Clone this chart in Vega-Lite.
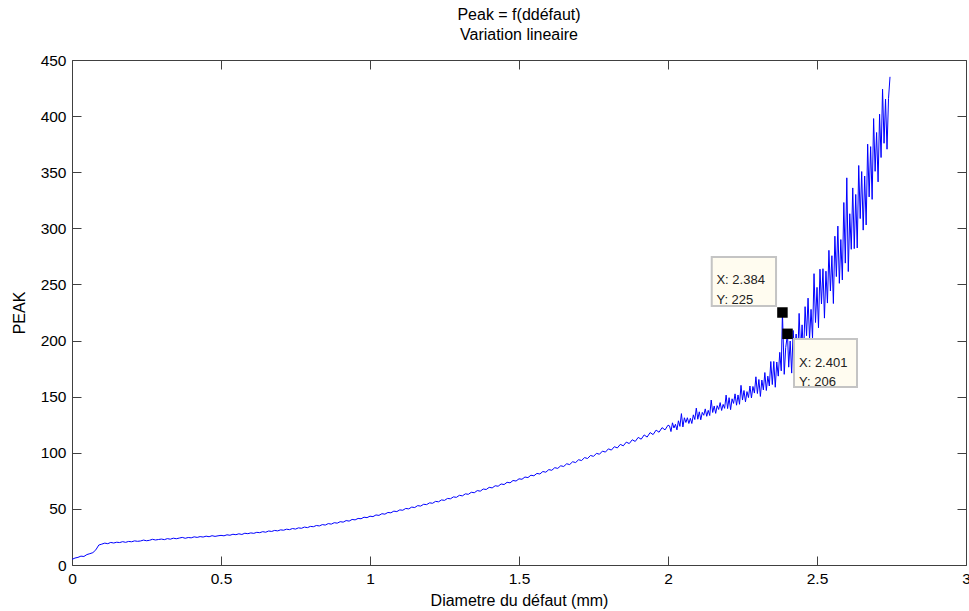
{
"$schema":"https://vega.github.io/schema/vega-lite/v6.json",
"width":894,"height":505,
"autosize":{"type":"none"},
"padding":{"left":72,"top":60,"right":3,"bottom":46},
"background":"white",
"config":{"font":"Liberation Sans","view":{"stroke":null}},
"title":{"text":"Peak = f(ddéfaut)","subtitle":"Variation lineaire","fontSize":16,"subtitleFontSize":16,"fontWeight":"normal","color":"black","subtitleColor":"black","anchor":"middle","offset":10,"subtitlePadding":4},
"datasets":{
"curve":[
{"x":0,"y":5.0},{"x":0.01,"y":6.2},{"x":0.02,"y":6.8},{"x":0.03,"y":7.9},{"x":0.04,"y":7.6},{"x":0.05,"y":9.3},{"x":0.06,"y":10.1},{"x":0.07,"y":11.0},{"x":0.08,"y":13.5},{"x":0.09,"y":17.8},
{"x":0.10,"y":18.6},{"x":0.11,"y":19.5},{"x":0.12,"y":19.0},{"x":0.13,"y":20.1},{"x":0.14,"y":19.6},{"x":0.15,"y":20.3},{"x":0.16,"y":20.0},{"x":0.17,"y":20.8},{"x":0.18,"y":20.2},{"x":0.19,"y":21.0},
{"x":0.20,"y":20.7},{"x":0.21,"y":21.5},{"x":0.22,"y":21.1},{"x":0.23,"y":21.4},{"x":0.24,"y":22.2},{"x":0.25,"y":21.6},{"x":0.26,"y":22.0},{"x":0.27,"y":22.9},{"x":0.28,"y":22.3},{"x":0.29,"y":22.7},
{"x":0.30,"y":23.1},{"x":0.31,"y":22.6},{"x":0.32,"y":23.5},{"x":0.33,"y":23.0},{"x":0.34,"y":23.9},{"x":0.35,"y":23.4},{"x":0.36,"y":24.0},{"x":0.37,"y":24.6},{"x":0.38,"y":23.8},{"x":0.39,"y":24.5},
{"x":0.40,"y":24.2},{"x":0.41,"y":25.1},{"x":0.42,"y":24.6},{"x":0.43,"y":25.3},{"x":0.44,"y":24.9},{"x":0.45,"y":25.7},{"x":0.46,"y":25.2},{"x":0.47,"y":26.1},{"x":0.48,"y":25.5},{"x":0.49,"y":26.0},
{"x":0.50,"y":26.4},{"x":0.51,"y":26.0},{"x":0.52,"y":26.9},{"x":0.53,"y":26.5},{"x":0.54,"y":27.4},{"x":0.55,"y":27.0},{"x":0.56,"y":27.8},{"x":0.57,"y":27.2},{"x":0.58,"y":28.3},{"x":0.59,"y":27.9},
{"x":0.60,"y":28.6},{"x":0.61,"y":28.2},{"x":0.62,"y":29.1},{"x":0.63,"y":28.8},{"x":0.64,"y":29.7},{"x":0.65,"y":29.2},{"x":0.66,"y":30.3},{"x":0.67,"y":29.9},{"x":0.68,"y":30.8},{"x":0.69,"y":30.4},
{"x":0.70,"y":31.3},{"x":0.71,"y":31.0},{"x":0.72,"y":31.9},{"x":0.73,"y":31.5},{"x":0.74,"y":32.5},{"x":0.75,"y":32.0},{"x":0.76,"y":33.1},{"x":0.77,"y":32.7},{"x":0.78,"y":33.8},{"x":0.79,"y":33.3},
{"x":0.80,"y":34.4},{"x":0.81,"y":34.1},{"x":0.82,"y":35.2},{"x":0.83,"y":34.8},{"x":0.84,"y":36.0},{"x":0.85,"y":35.6},{"x":0.86,"y":36.9},{"x":0.87,"y":36.4},{"x":0.88,"y":37.7},{"x":0.89,"y":37.3},
{"x":0.90,"y":38.6},{"x":0.91,"y":38.2},{"x":0.92,"y":39.6},{"x":0.93,"y":39.1},{"x":0.94,"y":40.6},{"x":0.95,"y":40.2},{"x":0.96,"y":41.5},{"x":0.97,"y":41.2},{"x":0.98,"y":42.6},{"x":0.99,"y":42.2},
{"x":1.00,"y":43.5},{"x":1.01,"y":43.1},{"x":1.02,"y":44.6},{"x":1.03,"y":44.2},{"x":1.04,"y":45.7},{"x":1.05,"y":45.3},{"x":1.06,"y":46.8},{"x":1.07,"y":46.5},{"x":1.08,"y":48.0},{"x":1.09,"y":47.6},
{"x":1.10,"y":49.1},{"x":1.11,"y":48.8},{"x":1.12,"y":50.4},{"x":1.13,"y":50.0},{"x":1.14,"y":51.6},{"x":1.15,"y":51.2},{"x":1.16,"y":52.9},{"x":1.17,"y":52.5},{"x":1.18,"y":54.1},{"x":1.19,"y":53.8},
{"x":1.20,"y":55.4},{"x":1.21,"y":55.0},{"x":1.22,"y":56.7},{"x":1.23,"y":56.3},{"x":1.24,"y":58.0},{"x":1.25,"y":57.6},{"x":1.26,"y":59.3},{"x":1.27,"y":59.0},{"x":1.28,"y":60.7},{"x":1.29,"y":60.3},
{"x":1.30,"y":62.1},{"x":1.31,"y":61.6},{"x":1.32,"y":63.4},{"x":1.33,"y":63.0},{"x":1.34,"y":64.8},{"x":1.35,"y":64.4},{"x":1.36,"y":66.3},{"x":1.37,"y":65.8},{"x":1.38,"y":67.7},{"x":1.39,"y":67.3},
{"x":1.40,"y":69.2},{"x":1.41,"y":68.7},{"x":1.42,"y":70.6},{"x":1.43,"y":70.2},{"x":1.44,"y":72.2},{"x":1.45,"y":71.7},{"x":1.46,"y":73.7},{"x":1.47,"y":73.2},{"x":1.48,"y":75.3},{"x":1.49,"y":74.8},
{"x":1.50,"y":76.8},{"x":1.51,"y":76.4},{"x":1.52,"y":78.4},{"x":1.53,"y":77.9},{"x":1.54,"y":80.0},{"x":1.55,"y":79.5},{"x":1.56,"y":81.6},{"x":1.57,"y":81.1},{"x":1.58,"y":83.3},{"x":1.59,"y":82.7},
{"x":1.60,"y":85.0},{"x":1.61,"y":84.4},{"x":1.62,"y":86.7},{"x":1.63,"y":86.1},{"x":1.64,"y":88.4},{"x":1.65,"y":87.8},{"x":1.66,"y":90.2},{"x":1.67,"y":89.5},{"x":1.68,"y":92.0},{"x":1.69,"y":91.3},
{"x":1.70,"y":93.8},{"x":1.71,"y":93.1},{"x":1.72,"y":95.7},{"x":1.73,"y":94.9},{"x":1.74,"y":97.6},{"x":1.75,"y":96.8},{"x":1.76,"y":99.5},{"x":1.77,"y":98.7},{"x":1.78,"y":101.5},{"x":1.79,"y":100.6},
{"x":1.80,"y":103.5},{"x":1.81,"y":102.4},{"x":1.82,"y":105.4},{"x":1.83,"y":104.3},{"x":1.84,"y":107.5},{"x":1.85,"y":106.2},{"x":1.86,"y":109.5},{"x":1.87,"y":108.2},{"x":1.88,"y":111.6},{"x":1.89,"y":110.1},
{"x":1.90,"y":113.7},{"x":1.91,"y":112.1},{"x":1.92,"y":115.9},{"x":1.93,"y":114.0},{"x":1.94,"y":118.0},{"x":1.95,"y":116.2},{"x":1.96,"y":120.2},{"x":1.97,"y":118.3},{"x":1.98,"y":122.4},{"x":1.99,"y":120.4},
{"x":2.000,"y":124.6},{"x":2.005,"y":124.0},{"x":2.010,"y":118.9},{"x":2.015,"y":126.7},{"x":2.020,"y":122.1},{"x":2.025,"y":125.4},{"x":2.030,"y":120.4},{"x":2.035,"y":128.5},{"x":2.040,"y":123.5},{"x":2.045,"y":134.9},
{"x":2.050,"y":123.0},{"x":2.055,"y":131.2},{"x":2.060,"y":127.0},{"x":2.065,"y":131.2},{"x":2.070,"y":126.1},{"x":2.075,"y":130.7},{"x":2.080,"y":126.1},{"x":2.085,"y":133.8},{"x":2.090,"y":129.6},{"x":2.095,"y":139.8},
{"x":2.100,"y":129.9},{"x":2.105,"y":136.5},{"x":2.110,"y":129.4},{"x":2.115,"y":136.0},{"x":2.120,"y":133.4},{"x":2.125,"y":139.1},{"x":2.130,"y":132.5},{"x":2.135,"y":137.8},{"x":2.140,"y":133.2},{"x":2.145,"y":147.0},
{"x":2.150,"y":135.9},{"x":2.155,"y":141.7},{"x":2.160,"y":135.1},{"x":2.165,"y":142.0},{"x":2.170,"y":138.6},{"x":2.175,"y":144.7},{"x":2.180,"y":137.7},{"x":2.185,"y":143.1},{"x":2.190,"y":139.6},{"x":2.195,"y":151.4},
{"x":2.200,"y":139.4},{"x":2.205,"y":149.1},{"x":2.210,"y":138.4},{"x":2.215,"y":148.1},{"x":2.220,"y":144.0},{"x":2.225,"y":152.5},{"x":2.230,"y":142.4},{"x":2.235,"y":151.5},{"x":2.240,"y":143.2},{"x":2.245,"y":160.1},
{"x":2.250,"y":147.0},{"x":2.255,"y":155.5},{"x":2.260,"y":145.4},{"x":2.265,"y":154.5},{"x":2.270,"y":149.2},{"x":2.275,"y":159.5},{"x":2.280,"y":148.8},{"x":2.285,"y":159.1},{"x":2.290,"y":153.2},{"x":2.295,"y":167.7},
{"x":2.300,"y":152.8},{"x":2.305,"y":165.3},{"x":2.310,"y":150.2},{"x":2.315,"y":164.8},{"x":2.320,"y":156.0},{"x":2.325,"y":171.5},{"x":2.330,"y":155.5},{"x":2.335,"y":168.3},{"x":2.340,"y":159.5},{"x":2.345,"y":181.3},
{"x":2.350,"y":160.8},{"x":2.355,"y":181.4},{"x":2.360,"y":158.4},{"x":2.365,"y":180.9},{"x":2.370,"y":168.3},{"x":2.375,"y":189.5},{"x":2.380,"y":173.0},{"x":2.384,"y":225.0},{"x":2.390,"y":169.9},{"x":2.395,"y":193.7},
{"x":2.401,"y":206.0},{"x":2.405,"y":176.3},{"x":2.410,"y":199.6},{"x":2.415,"y":171.0},{"x":2.420,"y":209.0},{"x":2.425,"y":187.6},{"x":2.430,"y":205.8},{"x":2.435,"y":180.8},{"x":2.440,"y":224.2},{"x":2.445,"y":190.2},
{"x":2.450,"y":214.0},{"x":2.455,"y":185.7},{"x":2.460,"y":230.2},{"x":2.465,"y":204.3},{"x":2.470,"y":237.8},{"x":2.475,"y":200.9},{"x":2.480,"y":227.8},{"x":2.485,"y":201.9},{"x":2.490,"y":259.6},{"x":2.495,"y":216.1},
{"x":2.500,"y":247.4},{"x":2.505,"y":211.4},{"x":2.510,"y":263.6},{"x":2.515,"y":232.6},{"x":2.520,"y":264.0},{"x":2.525,"y":220.0},{"x":2.530,"y":261.8},{"x":2.535,"y":233.4},{"x":2.540,"y":280.4},{"x":2.545,"y":244.2},
{"x":2.550,"y":275.6},{"x":2.555,"y":233.0},{"x":2.560,"y":293.0},{"x":2.565,"y":257.0},{"x":2.570,"y":302.0},{"x":2.575,"y":251.0},{"x":2.580,"y":290.0},{"x":2.585,"y":254.0},{"x":2.590,"y":323.0},{"x":2.595,"y":269.0},
{"x":2.600,"y":345.0},{"x":2.605,"y":261.5},{"x":2.610,"y":313.0},{"x":2.615,"y":281.3},{"x":2.620,"y":336.0},{"x":2.625,"y":281.9},{"x":2.630,"y":330.2},{"x":2.635,"y":282.5},{"x":2.640,"y":356.0},{"x":2.645,"y":308.7},
{"x":2.650,"y":350.6},{"x":2.655,"y":298.4},{"x":2.660,"y":346.6},{"x":2.665,"y":303.0},{"x":2.670,"y":375.0},{"x":2.675,"y":328.0},{"x":2.680,"y":372.8},{"x":2.685,"y":325.8},{"x":2.690,"y":397.8},{"x":2.695,"y":350.8},
{"x":2.700,"y":385.4},{"x":2.705,"y":341.4},{"x":2.710,"y":401.7},{"x":2.715,"y":363.1},{"x":2.720,"y":424.0},{"x":2.725,"y":375.8},{"x":2.730,"y":415.1},{"x":2.735,"y":370.5},{"x":2.740,"y":415.8},{"x":2.745,"y":435.0}
],
"tips":[
{"id":1,"x":2.384,"y":225,"label":"X: 2.384\nY: 225"},
{"id":2,"x":2.401,"y":206,"label":"X: 2.401\nY: 206"}
]
},
"resolve":{"axis":{"x":"independent","y":"independent"}},
"layer":[
{"data":{"name":"curve"},
 "mark":{"type":"line","color":"#0000ff","strokeWidth":1,"interpolate":"linear"},
 "encoding":{
  "x":{"field":"x","type":"quantitative","scale":{"domain":[0,3],"nice":false,"zero":false},
   "axis":{"orient":"bottom","title":"Diametre du défaut (mm)","values":[0,0.5,1,1.5,2,2.5,3],"format":"~g","grid":false,"tickSize":-9,"labelPadding":15,"labelFontSize":15.5,"labelColor":"black","titleFontSize":16,"titleFontWeight":"normal","titleColor":"black","titlePadding":6,"domainColor":"#404040","tickColor":"#404040","labelFlush":false,"labelOverlap":false}},
  "y":{"field":"y","type":"quantitative","scale":{"domain":[0,450],"nice":false},
   "axis":{"orient":"left","title":"PEAK","values":[0,50,100,150,200,250,300,350,400,450],"format":"d","grid":false,"tickSize":-9,"labelPadding":15,"labelFontSize":15.5,"labelColor":"black","titleFontSize":16,"titleFontWeight":"normal","titleColor":"black","titlePadding":13,"domainColor":"#404040","tickColor":"#404040","labelFlush":false,"labelOverlap":false}}
 }},
{"data":{"name":"tips"},
 "transform":[{"filter":"datum.id == 1"}],
 "mark":{"type":"rect","fill":"#fffcf0","stroke":"#c4c4c4","strokeWidth":2,"xOffset":-70.7,"x2Offset":-6.4,"yOffset":-55.5,"y2Offset":-6.5},
 "encoding":{"x":{"field":"x","type":"quantitative","axis":null},"x2":{"field":"x"},"y":{"field":"y","type":"quantitative","axis":null},"y2":{"field":"y"}}},
{"data":{"name":"tips"},
 "transform":[{"filter":"datum.id == 2"}],
 "mark":{"type":"rect","fill":"#fffcf0","stroke":"#c4c4c4","strokeWidth":2,"xOffset":6.5,"x2Offset":69.5,"yOffset":5.2,"y2Offset":53.2},
 "encoding":{"x":{"field":"x","type":"quantitative","axis":null},"x2":{"field":"x"},"y":{"field":"y","type":"quantitative","axis":null},"y2":{"field":"y"}}},
{"data":{"name":"tips"},
 "transform":[{"filter":"datum.id == 1"}],
 "mark":{"type":"text","align":"left","baseline":"middle","lineBreak":"\n","lineHeight":20,"fontSize":13,"color":"#222","dx":-66,"dy":-32.5},
 "encoding":{"x":{"field":"x","type":"quantitative","axis":null},"y":{"field":"y","type":"quantitative","axis":null},"text":{"field":"label"}}},
{"data":{"name":"tips"},
 "transform":[{"filter":"datum.id == 2"}],
 "mark":{"type":"text","align":"left","baseline":"middle","lineBreak":"\n","lineHeight":19,"fontSize":13,"color":"#222","dx":11.5,"dy":28.7},
 "encoding":{"x":{"field":"x","type":"quantitative","axis":null},"y":{"field":"y","type":"quantitative","axis":null},"text":{"field":"label"}}},
{"data":{"name":"tips"},
 "mark":{"type":"square","size":110,"color":"black","filled":true,"opacity":1},
 "encoding":{
  "x":{"field":"x","type":"quantitative","axis":{"orient":"top","labels":false,"title":null,"values":[0,0.5,1,1.5,2,2.5,3],"grid":false,"tickSize":-9,"domainColor":"#404040","tickColor":"#404040"}},
  "y":{"field":"y","type":"quantitative","axis":{"orient":"right","labels":false,"title":null,"values":[0,50,100,150,200,250,300,350,400,450],"grid":false,"tickSize":-9,"domainColor":"#404040","tickColor":"#404040"}}
 }}
]
}
